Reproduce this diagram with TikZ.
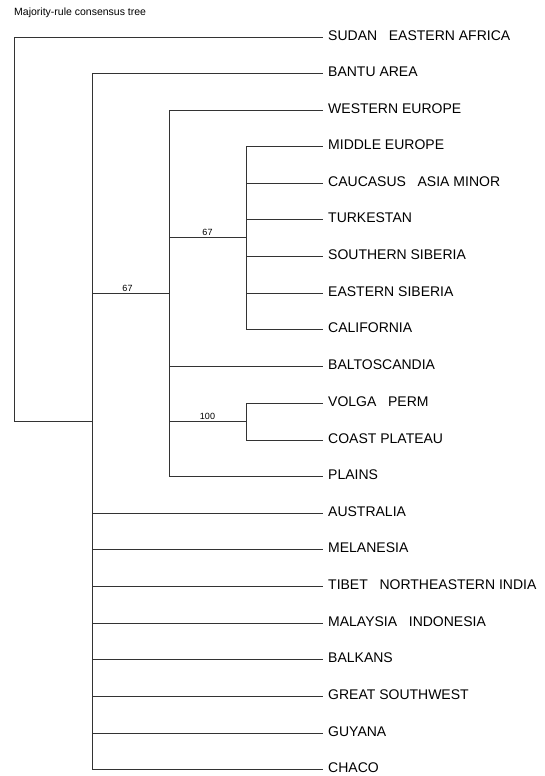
\documentclass[tikz,border=0pt]{standalone}
\usepackage{fontspec}
\setmainfont{Liberation Sans}
\begin{document}
\begin{tikzpicture}[x=1pt,y=-1pt,
  leaf/.style={anchor=west,inner xsep=5pt,inner ysep=0pt,text height=0.72em,text depth=0pt,font=\fontsize{14}{16}\selectfont},
  edge/.style={draw=black!80,line width=0.9pt},
  support/.style={font=\fontsize{9}{10}\selectfont,inner sep=1pt,anchor=south}]
\useasboundingbox (0,0) rectangle (545,776);
\node[anchor=west,inner sep=0pt,font=\fontsize{10.5}{12}\selectfont] (title) at (14,13) {Majority-rule consensus tree};
% leaves
\node[leaf] (sudan) at (323,37) {SUDAN\ \ \ EASTERN AFRICA};
\node[leaf] (bantu) at (323,73) {BANTU AREA};
\node[leaf] (weur) at (323,110) {WESTERN EUROPE};
\node[leaf] (meur) at (323,146) {MIDDLE EUROPE};
\node[leaf] (cauc) at (323,183) {CAUCASUS\ \ \ ASIA MINOR};
\node[leaf] (turk) at (323,219) {TURKESTAN};
\node[leaf] (ssib) at (323,256) {SOUTHERN SIBERIA};
\node[leaf] (esib) at (323,293) {EASTERN SIBERIA};
\node[leaf] (cali) at (323,329) {CALIFORNIA};
\node[leaf] (balt) at (323,366) {BALTOSCANDIA};
\node[leaf] (volga) at (323,403) {VOLGA\ \ \ PERM};
\node[leaf] (coast) at (323,440) {COAST PLATEAU};
\node[leaf] (plains) at (323,476) {PLAINS};
\node[leaf] (austr) at (323,513) {AUSTRALIA};
\node[leaf] (mela) at (323,549) {MELANESIA};
\node[leaf] (tibet) at (323,586) {TIBET\ \ \ NORTHEASTERN INDIA};
\node[leaf] (malay) at (323,623) {MALAYSIA\ \ \ INDONESIA};
\node[leaf] (balk) at (323,659) {BALKANS};
\node[leaf] (gsw) at (323,696) {GREAT SOUTHWEST};
\node[leaf] (guy) at (323,733) {GUYANA};
\node[leaf] (chaco) at (323,769) {CHACO};
% internal nodes
\coordinate (root) at (14,421);
\coordinate (nA) at (92,421);
\coordinate (nB) at (169,293);
\coordinate (nC) at (246,237.5);
\coordinate (nD) at (246,421.5);
% edges
\path[edge] (root) |- (sudan.west);
\path[edge] (root) -- (nA);
\foreach \t in {bantu,austr,mela,tibet,malay,balk,gsw,guy,chaco}
  \path[edge] (nA) |- (\t.west);
\path[edge] (nA |- nB) -- node[support,xshift=-3pt] (s1) {67} (nB);
\foreach \t in {weur,balt,plains}
  \path[edge] (nB) |- (\t.west);
\path[edge] (nB |- nC) -- node[support] (s2) {67} (nC);
\foreach \t in {meur,cauc,turk,ssib,esib,cali}
  \path[edge] (nC) |- (\t.west);
\path[edge] (nB |- nD) -- node[support] (s3) {100} (nD);
\foreach \t in {volga,coast}
  \path[edge] (nD) |- (\t.west);
\end{tikzpicture}
\end{document}
